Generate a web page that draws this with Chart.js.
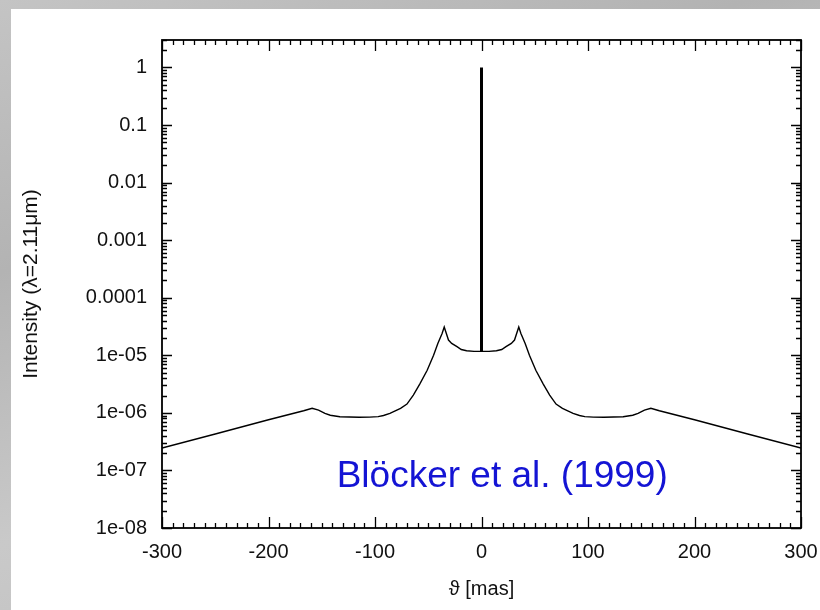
<!DOCTYPE html>
<html>
<head>
<meta charset="utf-8">
<title>Intensity profile</title>
<script src="https://cdn.jsdelivr.net/npm/chart.js@4.4.1/dist/chart.umd.min.js"></script>
<style>
  body { margin: 0; width: 820px; height: 610px; overflow: hidden;
         background: linear-gradient(160deg, #c4c4c4 0%, #b3b3b3 30%, #c9c9c9 60%, #b9b9b9 100%); }
  #panel { position: absolute; left: 11px; top: 9px; right: 0; bottom: 0; background: #fff; }
  #wrap { position: absolute; left: 0; top: 0; width: 820px; height: 610px; }
</style>
</head>
<body>
<div id="panel"></div>
<div id="wrap"><canvas id="chart" width="820" height="610"></canvas></div>
<script>
'use strict'

// angle from centre [mas] and intensity
const thetaMas = [-300, -250, -200, -167, -159, -153, -147, -142, -133, -115, -105, -97, -92, -86, -76, -70, -64, -58, -51, -45, -41, -37, -35,
                  -31, -28, -23, -19, -14, -7, 0, 7, 14, 19, 23, 28, 31,
                  35, 37, 41, 45, 51, 58, 64, 70, 76, 86, 92, 97, 105, 115, 133, 142, 147, 153, 159, 167, 200, 250, 300];
const intensity = [2.45e-7, 4.3e-7, 7.6e-7, 1.09e-6, 1.2e-6, 1.12e-6, 9.8e-7, 9.1e-7, 8.55e-7, 8.4e-7, 8.45e-7, 8.6e-7, 9.0e-7, 9.8e-7, 1.2e-6, 1.42e-6, 2.04e-6, 3.16e-6, 5.5e-6, 1.0e-5, 1.61e-5, 2.4e-5, 3.1e-5,
                   1.84e-5, 1.61e-5, 1.41e-5, 1.26e-5, 1.2e-5, 1.17e-5, 1.17e-5, 1.17e-5, 1.2e-5, 1.26e-5, 1.41e-5, 1.61e-5, 1.84e-5,
                   3.1e-5, 2.4e-5, 1.61e-5, 1.0e-5, 5.5e-6, 3.16e-6, 2.04e-6, 1.42e-6, 1.2e-6, 9.8e-7, 9.0e-7, 8.6e-7, 8.45e-7, 8.4e-7, 8.55e-7, 9.1e-7, 9.8e-7, 1.12e-6, 1.2e-6, 1.09e-6, 7.6e-7, 4.3e-7, 2.45e-7];

// central star (unresolved spike)
const spikeTheta = [0, 0];
const spikeIntensity = [1.17e-5, 1];

const xTicks = [-300, -200, -100, 0, 100, 200, 300];
const yTicks = [1e-8, 1e-7, 1e-6, 1e-5, 1e-4, 1e-3, 1e-2, 1e-1, 1];
const yTickLabels = ['1e-08', '1e-07', '1e-06', '1e-05', '0.0001', '0.001', '0.01', '0.1', '1'];

const labelFont = { family: "'Liberation Sans', Arial, sans-serif", size: 20 };

// gnuplot style frame with inward ticks, plus the citation text
const framePlugin = {
  id: 'frame',
  afterDatasetsDraw(chart) {
    const ctx = chart.ctx;
    const a = chart.chartArea;
    const xs = chart.scales.x;
    const ys = chart.scales.y;
    ctx.save();
    ctx.strokeStyle = '#000';
    ctx.lineWidth = 1.3;
    ctx.beginPath();
    // x ticks every 10, major every 100
    for (let v = -300; v <= 300; v += 10) {
      const px = Math.round(xs.getPixelForValue(v)) + 0.5;
      const len = (v % 100 === 0) ? 11 : 5;
      ctx.moveTo(px, a.bottom); ctx.lineTo(px, a.bottom - len);
      ctx.moveTo(px, a.top); ctx.lineTo(px, a.top + len);
    }
    // y log ticks
    for (let e = -8; e <= 0; e++) {
      for (let m = 1; m <= 9; m++) {
        const v = m * Math.pow(10, e);
        if (v > ys.max) break;
        const py = Math.round(ys.getPixelForValue(v)) + 0.5;
        const len = (m === 1) ? 10 : 5;
        ctx.moveTo(a.left, py); ctx.lineTo(a.left + len, py);
        ctx.moveTo(a.right, py); ctx.lineTo(a.right - len, py);
      }
    }
    ctx.stroke();
    ctx.lineWidth = 1.8;
    ctx.strokeRect(a.left, a.top, a.right - a.left, a.bottom - a.top);

    ctx.fillStyle = '#1414d4';
    ctx.font = "37px 'Liberation Sans', Arial, sans-serif";
    ctx.textBaseline = 'alphabetic';
    ctx.textAlign = 'left';
    ctx.fillText('Blöcker et al. (1999)', xs.getPixelForValue(-136), ys.getPixelForValue(5.2e-8));
    ctx.restore();
  }
};

const chartEl = document.getElementById('chart').getContext('2d');

let chart = new Chart(chartEl, {
  type: 'scatter',
  data: {
    datasets: [
      {
        label: 'Intensity',
        data: thetaMas.map((t, i) => ({ x: t, y: intensity[i] })),
        showLine: true,
        borderColor: '#000',
        borderWidth: 1.4,
        pointRadius: 0,
        tension: 0
      },
      {
        label: 'Star',
        data: spikeTheta.map((t, i) => ({ x: t, y: spikeIntensity[i] })),
        showLine: true,
        borderColor: '#000',
        borderWidth: 3,
        pointRadius: 0
      }
    ]
  },
  options: {
    responsive: false,
    animation: false,
    layout: { padding: { top: 40, right: 0, left: 0, bottom: 0 } },
    plugins: { legend: { display: false }, tooltip: { enabled: false } },
    scales: {
      x: {
        type: 'linear',
        min: -300,
        max: 300,
        afterBuildTicks: s => { s.ticks = xTicks.map(v => ({ value: v })); },
        afterFit: s => { s.height = 82; s.paddingRight = 19; s.paddingLeft = 0; },
        grid: { display: false, drawTicks: false },
        border: { display: false },
        ticks: { color: '#111', font: labelFont, padding: 12, maxRotation: 0, autoSkip: false },
        title: { display: true, text: 'ϑ [mas]', color: '#111', font: labelFont, padding: { top: 0, bottom: 9 } }
      },
      y: {
        type: 'logarithmic',
        min: 1e-8,
        max: 3,
        afterBuildTicks: s => { s.ticks = yTicks.map(v => ({ value: v })); },
        afterFit: s => { s.width = 162; },
        grid: { display: false, drawTicks: false },
        border: { display: false },
        ticks: {
          color: '#111', font: labelFont, padding: 15, autoSkip: false,
          callback: function(value) {
            const i = yTicks.findIndex(t => Math.abs(Math.log10(t) - Math.log10(value)) < 1e-6);
            return i >= 0 ? yTickLabels[i] : '';
          }
        },
        title: { display: true, text: 'Intensity (λ=2.11μm)', color: '#111', font: { family: labelFont.family, size: 21 }, padding: { top: 19, bottom: 0 } }
      }
    }
  },
  plugins: [framePlugin]
});
</script>
</body>
</html>
